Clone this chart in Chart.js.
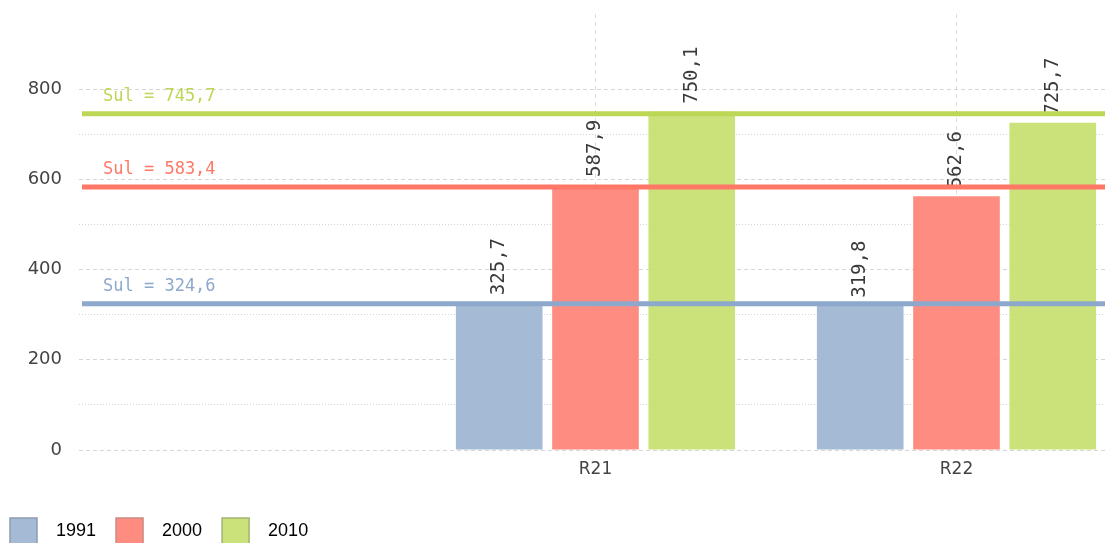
<!DOCTYPE html>
<html>
<head>
<meta charset="utf-8">
<script src="https://cdn.jsdelivr.net/npm/chart.js@4/dist/chart.umd.min.js"></script>
<style>
  html, body { margin: 0; padding: 0; background: #fff; }
  #wrap { width: 1105px; height: 543px; overflow: hidden; position: relative; }
  #box { width: 1105px; height: 555px; position: absolute; left: 0; top: 0; }
</style>
</head>
<body>
<div id="wrap"><div id="box"><canvas id="chart"></canvas></div></div>
<script>
/* data */
const categories = ['R21', 'R22'];
const years      = ['1991', '2000', '2010'];
const values1991 = [325.7, 319.8];
const values2000 = [587.9, 562.6];
const values2010 = [750.1, 725.7];
const sulAverages = [324.6, 583.4, 745.7];   // one per year
const yMajorTicks = [0, 200, 400, 600, 800];
const yMinorTicks = [100, 300, 500, 700];

const BAR_COLORS  = ['rgba(160,182,210,0.95)', 'rgba(255,134,122,0.95)', 'rgba(200,224,115,0.95)'];
const BOX_BORDERS = ['#8f9db0', '#c98a84', '#a3b372'];
const LINE_COLORS = ['#8ea8cc', '#ff7867', '#bcd655'];

const fmt = v => v.toFixed(1).replace('.', ',');

const seriesValues = [values1991, values2000, values2010];
const datasets = years.map((yr, i) => ({
    label: yr,
    data: seriesValues[i].map((v, k) => ({ x: k + 1, y: v })),
    backgroundColor: BAR_COLORS[i],
    borderWidth: 0,
    categoryPercentage: 0.8,
    barPercentage: 0.9,
}));

/* rotated value labels on top of each bar */
const valueLabels = {
    id: 'valueLabels',
    afterDatasetsDraw(chart) {
        const ctx = chart.ctx;
        ctx.save();
        ctx.font = '19px "DejaVu Sans Mono"';
        ctx.fillStyle = '#3a3a3a';
        ctx.textAlign = 'left';
        ctx.textBaseline = 'middle';
        chart.data.datasets.forEach((ds, i) => {
            chart.getDatasetMeta(i).data.forEach((bar, k) => {
                ctx.save();
                ctx.translate(bar.x, bar.y - 8);
                ctx.rotate(-Math.PI / 2);
                ctx.fillText(fmt(ds.data[k].y), 0, 0);
                ctx.restore();
            });
        });
        ctx.restore();
    }
};

/* "Sul = ..." reference lines, drawn over everything */
const sulLines = {
    id: 'sulLines',
    afterDraw(chart) {
        const { ctx, chartArea } = chart;
        const yScale = chart.scales.y;
        ctx.save();
        sulAverages.forEach((v, i) => {
            const py = yScale.getPixelForValue(v);
            ctx.strokeStyle = LINE_COLORS[i];
            ctx.lineWidth = 5;
            ctx.beginPath();
            ctx.moveTo(chartArea.left + 3, py);
            ctx.lineTo(chartArea.right, py);
            ctx.stroke();
            ctx.font = '17px "DejaVu Sans Mono"';
            ctx.fillStyle = LINE_COLORS[i];
            ctx.textAlign = 'left';
            ctx.textBaseline = 'alphabetic';
            ctx.fillText('Sul = ' + fmt(v), chartArea.left + 24, py - 13);
        });
        ctx.restore();
    }
};

new Chart(document.getElementById('chart'), {
    type: 'bar',
    data: { datasets },
    plugins: [valueLabels, sulLines],
    options: {
        responsive: true,
        maintainAspectRatio: false,
        animation: false,
        layout: { padding: { top: 14, left: 0, right: 0, bottom: 0 } },
        plugins: {
            tooltip: { enabled: false },
            legend: {
                position: 'bottom',
                align: 'start',
                labels: {
                    boxWidth: 27,
                    boxHeight: 27,
                    padding: 10,
                    color: '#444',
                    font: { family: '"Liberation Sans"', size: 18 },
                    generateLabels(chart) {
                        return chart.data.datasets.map((ds, i) => ({
                            text: '  ' + ds.label + '  ',
                            fillStyle: ds.backgroundColor,
                            strokeStyle: BOX_BORDERS[i],
                            lineWidth: 1.5,
                            hidden: false,
                            datasetIndex: i,
                        }));
                    }
                }
            }
        },
        scales: {
            x: {
                type: 'linear',
                offset: false,
                min: -0.4307,
                max: 2.4114,
                afterBuildTicks(scale) {
                    scale.ticks = categories.map((c, k) => ({ value: k + 1 }));
                },
                afterFit(scale) { scale.height = 58; },
                ticks: {
                    padding: 9,
                    color: '#444',
                    font: { family: '"DejaVu Sans"', size: 17 },
                    callback: v => categories[v - 1] ?? '',
                },
                grid: { offset: false, color: '#dcdcdc', drawTicks: false },
                border: { display: false, dash: [4, 4] },
            },
            y: {
                position: 'left',
                min: 0,
                max: 967,
                afterBuildTicks(scale) {
                    scale.ticks = yMajorTicks.map(v => ({ value: v }));
                },
                afterFit(scale) {
                    scale.width = 79;
                    scale.paddingTop = 0;
                    scale.paddingBottom = 0;
                },
                ticks: {
                    padding: 17,
                    color: '#444',
                    font: { family: '"DejaVu Sans"', size: 18 },
                },
                grid: { color: '#d6d6d6', drawTicks: false },
                border: { display: false, dash: [4, 3] },
            },
            yMinor: {
                position: 'left',
                min: 0,
                max: 967,
                afterBuildTicks(scale) {
                    scale.ticks = yMinorTicks.map(v => ({ value: v }));
                },
                afterFit(scale) {
                    scale.width = 0;
                    scale.paddingTop = 0;
                    scale.paddingBottom = 0;
                },
                ticks: { display: false },
                grid: { color: '#d6d6d6', drawTicks: false },
                border: { display: false, dash: [1, 2] },
            },
        },
    },
});
</script>
</body>
</html>
